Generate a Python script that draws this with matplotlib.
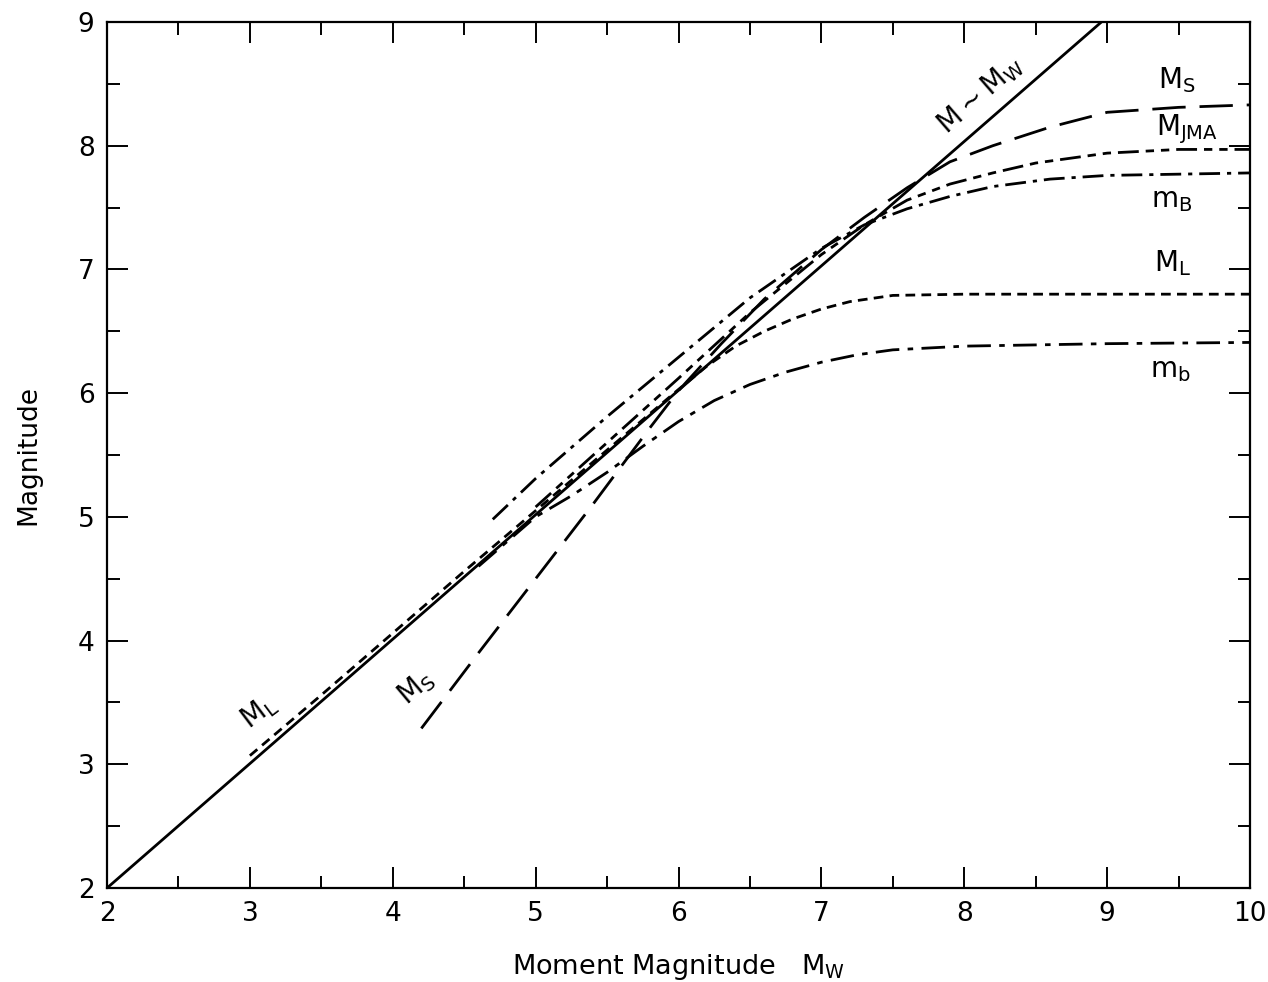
import numpy as np
import matplotlib
matplotlib.use('Agg')
import matplotlib.pyplot as plt
from matplotlib.ticker import MultipleLocator

plt.rcParams['font.family'] = ['DejaVu Sans']
plt.rcParams['mathtext.default'] = 'regular'
plt.rcParams['lines.scale_dashes'] = False

# values
mw_x = [2.0, 8.96]
mw_y = [2.0, 9.0]

ml_x = [3.0, 3.5, 4.0, 4.5, 5.0, 5.5, 6.0, 6.2, 6.4, 6.6, 6.8, 7.0, 7.2, 7.5, 8.0, 9.0, 10.0]
ml_y = [3.07, 3.56, 4.06, 4.56, 5.05, 5.54, 6.03, 6.22, 6.38, 6.50, 6.60, 6.68, 6.74, 6.79, 6.80, 6.80, 6.80]

mb_x = [4.6, 5.0, 5.25, 5.5, 5.75, 6.0, 6.25, 6.5, 6.75, 7.0, 7.25, 7.5, 8.0, 9.0, 10.0]
mb_y = [4.6, 5.0, 5.17, 5.36, 5.57, 5.77, 5.94, 6.07, 6.17, 6.25, 6.31, 6.35, 6.38, 6.40, 6.41]

mB_x = [4.7, 5.0, 5.5, 6.0, 6.5, 7.0, 7.3, 7.6, 7.9, 8.2, 8.6, 9.0, 9.5, 10.0]
mB_y = [4.98, 5.31, 5.81, 6.29, 6.77, 7.17, 7.36, 7.49, 7.59, 7.67, 7.73, 7.76, 7.77, 7.78]

mjma_x = [5.0, 5.5, 6.0, 6.5, 7.0, 7.3, 7.6, 7.9, 8.2, 8.5, 9.0, 9.5, 10.0]
mjma_y = [5.08, 5.6, 6.12, 6.65, 7.12, 7.36, 7.56, 7.69, 7.78, 7.86, 7.94, 7.97, 7.97]

ms_x = [4.2, 4.6, 5.0, 5.4, 5.8, 6.0, 6.3, 6.6, 7.0, 7.3, 7.6, 7.9, 8.2, 8.6, 9.0, 9.5, 10.0]
ms_y = [3.29, 3.9, 4.5, 5.1, 5.72, 6.02, 6.4, 6.76, 7.16, 7.42, 7.66, 7.87, 8.0, 8.15, 8.27, 8.31, 8.33]

fig = plt.figure(figsize=(12.68, 9.82), dpi=100)
ax = fig.add_axes([0.0844, 0.0957, 0.9014, 0.8819])

lw = 2.0
ax.plot(mw_x, mw_y, color='black', lw=lw)
ax.plot(ms_x, ms_y, color='black', lw=lw, dashes=(24, 10))
ax.plot(mjma_x, mjma_y, color='black', lw=lw, dashes=(15, 5, 6, 5, 6, 5))
ax.plot(mB_x, mB_y, color='black', lw=lw, dashes=(15, 5, 3, 5))
ax.plot(ml_x, ml_y, color='black', lw=lw, dashes=(7, 4.5))
ax.plot(mb_x, mb_y, color='black', lw=lw, dashes=(17, 6, 4, 6))

ax.set_xlim(2, 10)
ax.set_ylim(2, 9)
ax.xaxis.set_major_locator(MultipleLocator(1))
ax.xaxis.set_minor_locator(MultipleLocator(0.5))
ax.yaxis.set_major_locator(MultipleLocator(1))
ax.yaxis.set_minor_locator(MultipleLocator(0.5))
ax.tick_params(which='both', direction='in', top=True, right=True, width=1.4,
               labelsize=19, pad=9)
ax.tick_params(which='major', length=15)
ax.tick_params(which='minor', length=9)
for s in ax.spines.values():
    s.set_linewidth(1.6)

ax.set_xlabel('Moment Magnitude   $M_W$', fontsize=19.5, labelpad=18)
ax.set_ylabel('Magnitude', fontsize=19, labelpad=26)

fs = 20
ax.text(9.49, 8.53, '$M_S$', fontsize=fs, ha='center', va='center')
ax.text(9.56, 8.13, '$M_{JMA}$', fontsize=fs, ha='center', va='center')
ax.text(9.45, 7.56, '$m_B$', fontsize=fs, ha='center', va='center')
ax.text(9.46, 7.05, '$M_L$', fontsize=fs, ha='center', va='center')
ax.text(9.44, 6.19, '$m_b$', fontsize=fs, ha='center', va='center')
ax.text(8.11, 8.41, r'$M \sim M_W$', fontsize=fs, ha='center', va='center', rotation=41)
ax.text(3.06, 3.42, '$M_L$', fontsize=fs, ha='center', va='center', rotation=37)
ax.text(4.16, 3.62, '$M_S$', fontsize=fs, ha='center', va='center', rotation=40)

fig.savefig('out.png', dpi=100)
